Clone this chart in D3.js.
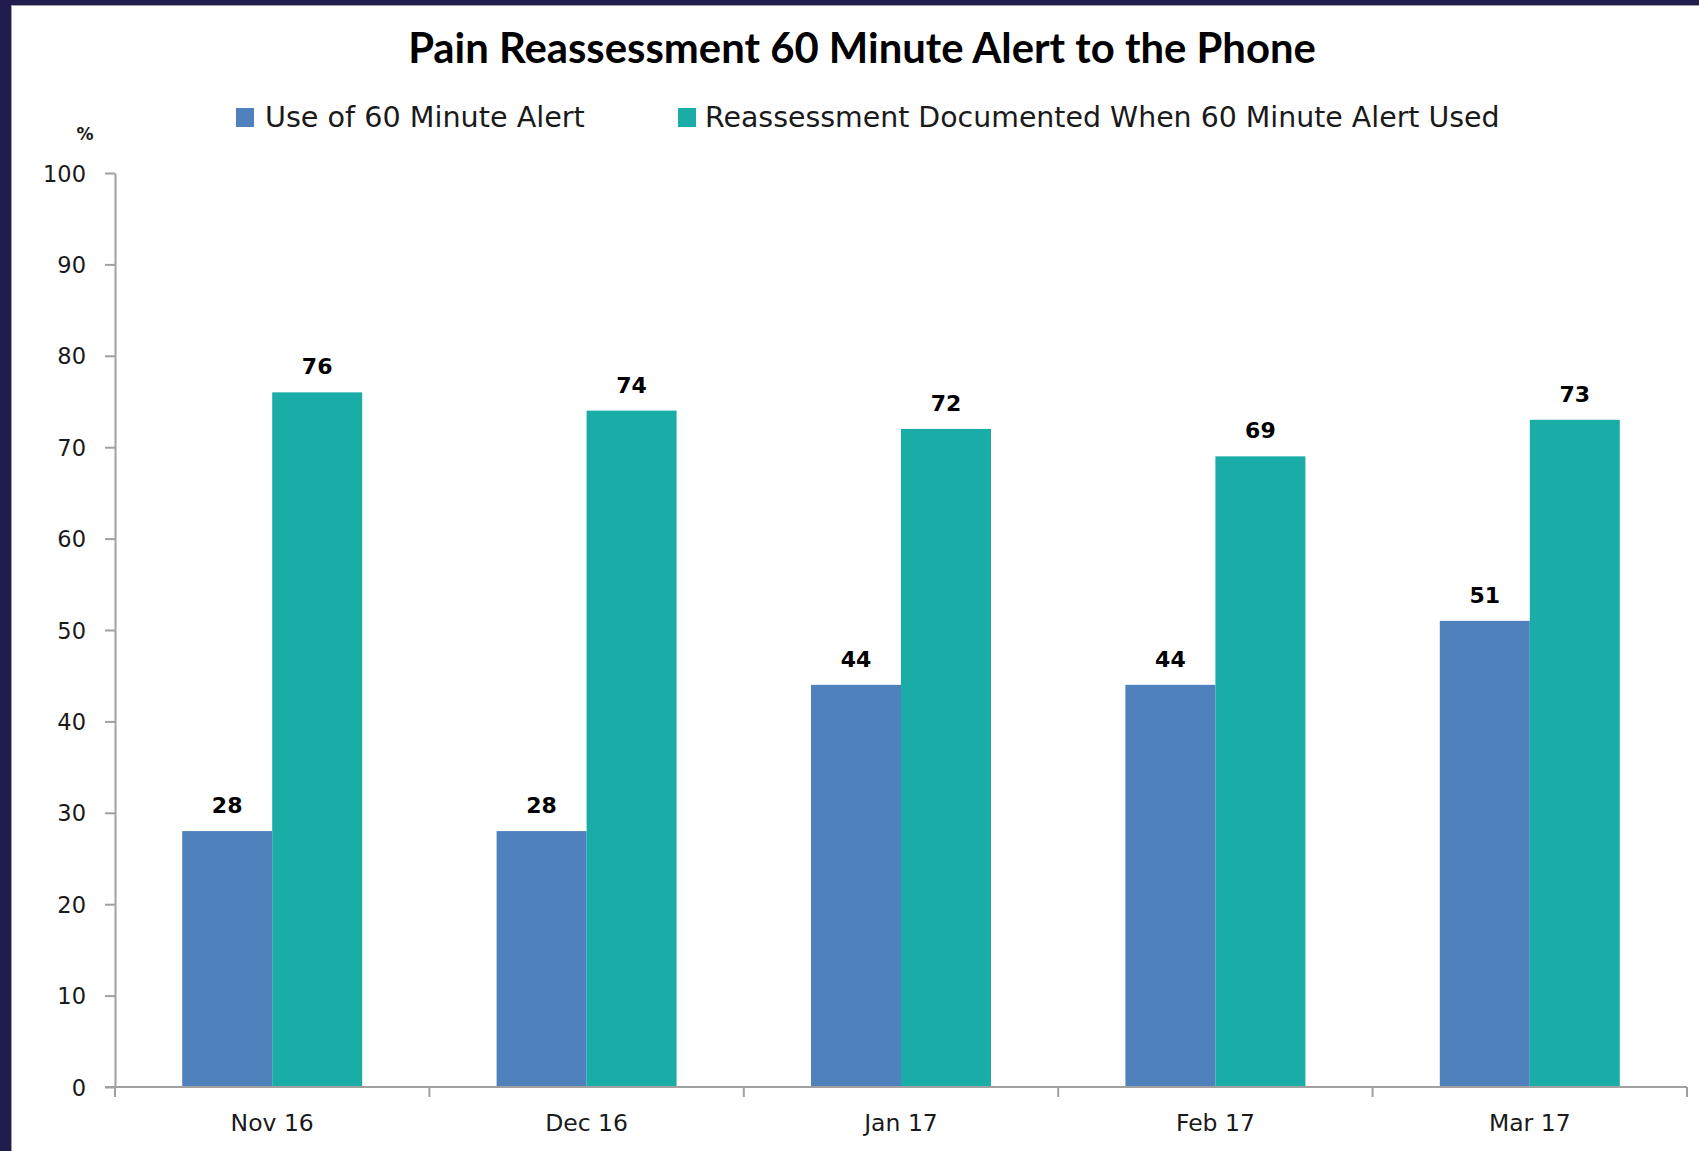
<!DOCTYPE html>
<html>
<head>
<meta charset="utf-8">
<script src="https://cdn.jsdelivr.net/npm/d3@7"></script>
<style>
html,body{margin:0;padding:0;background:#201d4e;}
svg{display:block;}
</style>
</head>
<body>
<svg id="chart" width="1699" height="1151"></svg>
<script>
const categories = ["Nov 16", "Dec 16", "Jan 17", "Feb 17", "Mar 17"];
const seriesNames = ["Use of 60 Minute Alert", "Reassessment Documented When 60 Minute Alert Used"];
const useAlert = [28, 28, 44, 44, 51];
const reassessed = [76, 74, 72, 69, 73];
const yTicks = [0, 10, 20, 30, 40, 50, 60, 70, 80, 90, 100];
const colors = ["#4f81bd", "#1aada8"];
const titleText = "Pain Reassessment 60 Minute Alert to the Phone";

const svg = d3.select("#chart");
const W = 1699, H = 1151;

// background frame
svg.append("rect").attr("x", 0).attr("y", 0).attr("width", W).attr("height", H).attr("fill", "#201d4e");
svg.append("rect").attr("x", 11).attr("y", 5).attr("width", W - 11).attr("height", H - 5).attr("fill", "#a0a0a0");
svg.append("rect").attr("x", 12).attr("y", 6).attr("width", W - 12).attr("height", H - 6).attr("fill", "#ffffff");

const m = {left: 115, right: 1687, top: 173, bottom: 1087};

const x0 = d3.scaleBand().domain(categories).range([m.left, m.right]).padding(0);
const groupW = x0.bandwidth() * 0.5725;
const x1 = d3.scaleBand().domain([0, 1]).range([0, groupW]).padding(0);
const y = d3.scaleLinear().domain([0, 100]).range([m.bottom, m.top]);

function fitText(sel, target) {
  const node = sel.node();
  const fs = parseFloat(sel.attr("font-size"));
  const w = node.getComputedTextLength();
  sel.attr("font-size", fs * target / w);
}

// title
const title = svg.append("text").attr("x", 862).attr("y", 63)
  .attr("text-anchor", "middle")
  .attr("font-family", "Lato, 'Open Sans', sans-serif")
  .attr("font-weight", "bold").attr("font-size", 34).attr("fill", "#000")
  .text(titleText);
fitText(title, 908);

// legend
const legendItems = [
  {sx: 236, tx: 265, w: 320},
  {sx: 678, tx: 705, w: 795}
];
seriesNames.forEach((name, i) => {
  const L = legendItems[i];
  svg.append("rect").attr("x", L.sx).attr("y", 108).attr("width", 18).attr("height", 19).attr("fill", colors[i]);
  const t = svg.append("text").attr("x", L.tx).attr("y", 127)
    .attr("font-family", "'DejaVu Sans', sans-serif").attr("font-size", 28.6)
    .attr("fill", "#1a1a1a").text(name);
  fitText(t, L.w);
});

// % label
svg.append("text").attr("x", 85).attr("y", 140).attr("text-anchor", "middle")
  .attr("font-family", "'DejaVu Sans', sans-serif").attr("font-weight", "bold")
  .attr("font-size", 17).attr("fill", "#1a1a1a").text("%");

// y axis
const yAxis = svg.append("g").attr("transform", `translate(${m.left},0)`)
  .call(d3.axisLeft(y).tickValues(yTicks).tickSize(10).tickPadding(19).tickSizeOuter(0));
yAxis.select(".domain").attr("stroke", "#a0a0a0").attr("stroke-width", 2);
yAxis.selectAll(".tick line").attr("stroke", "#a0a0a0").attr("stroke-width", 2);
yAxis.selectAll(".tick text").attr("font-family", "'DejaVu Sans', sans-serif")
  .attr("font-size", 22.5).attr("fill", "#1a1a1a").attr("dy", "0.36em");

// bars
const groups = svg.append("g").selectAll("g").data(categories).join("g")
  .attr("transform", d => `translate(${x0(d) + (x0.bandwidth() - groupW) / 2},0)`);

const seriesVals = [useAlert, reassessed];
groups.each(function(cat, ci) {
  const g = d3.select(this);
  seriesVals.forEach((vals, si) => {
    const v = vals[ci];
    g.append("rect").attr("x", x1(si)).attr("width", x1.bandwidth())
      .attr("y", y(v)).attr("height", y(0) - y(v)).attr("fill", colors[si]);
    g.append("text").attr("x", x1(si) + x1.bandwidth() / 2).attr("y", y(v) - 18)
      .attr("text-anchor", "middle").attr("font-family", "'DejaVu Sans', sans-serif")
      .attr("font-weight", "bold").attr("font-size", 22).attr("fill", "#000").text(v);
  });
});

// x axis
const xAxisG = svg.append("g").attr("transform", `translate(0,${m.bottom})`);
xAxisG.append("line").attr("x1", m.left - 10).attr("x2", m.right).attr("y1", 0).attr("y2", 0)
  .attr("stroke", "#a0a0a0").attr("stroke-width", 2);
const boundaries = categories.map(c => x0(c)).concat([m.right]);
xAxisG.selectAll("line.tk").data(boundaries).join("line").attr("class", "tk")
  .attr("x1", d => d).attr("x2", d => d).attr("y1", 0).attr("y2", 10)
  .attr("stroke", "#a0a0a0").attr("stroke-width", 2);
xAxisG.selectAll("text").data(categories).join("text")
  .attr("x", d => x0(d) + x0.bandwidth() / 2).attr("y", 44)
  .attr("text-anchor", "middle").attr("font-family", "'DejaVu Sans', sans-serif")
  .attr("font-size", 23.5).attr("fill", "#1a1a1a").text(d => d);
</script>
</body>
</html>
